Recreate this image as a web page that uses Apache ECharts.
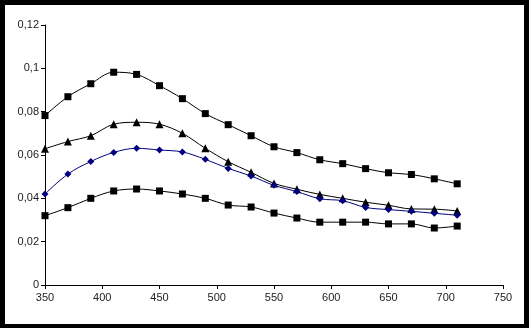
<!DOCTYPE html>
<html>
<head>
<meta charset="utf-8">
<script src="https://cdn.jsdelivr.net/npm/echarts@6/dist/echarts.min.js"></script>
<style>
html,body{margin:0;padding:0;background:#fff;}
#chart{width:529px;height:328px;}
</style>
</head>
<body>
<div id="chart"></div>
<script>
const wavelengths = [350,370,390,410,430,450,470,490,510,530,550,570,590,610,630,650,670,690,710];
const seriesTop = [0.0782,0.0869,0.0929,0.0982,0.0972,0.0920,0.0860,0.0791,0.0740,0.0689,0.0638,0.0611,0.0578,0.0560,0.0537,0.0518,0.0510,0.0490,0.0467];
const seriesTriangle = [0.0629,0.0662,0.0689,0.0742,0.0751,0.0742,0.0700,0.0631,0.0569,0.0520,0.0469,0.0442,0.0418,0.0400,0.0382,0.0368,0.0351,0.0350,0.0342];
const seriesBlue = [0.0420,0.0512,0.0570,0.0612,0.0631,0.0623,0.0614,0.0580,0.0538,0.0503,0.0460,0.0431,0.0398,0.0389,0.0358,0.0348,0.0340,0.0331,0.0322];
const seriesBottom = [0.0320,0.0357,0.0400,0.0434,0.0443,0.0434,0.0420,0.0400,0.0369,0.0360,0.0332,0.0309,0.0290,0.0290,0.0290,0.0282,0.0282,0.0263,0.0272];
const yTickLabels = {"0":"0","0.02":"0,02","0.04":"0,04","0.06":"0,06","0.08":"0,08","0.1":"0,1","0.12":"0,12"};

function pairs(vals){ return wavelengths.map((x,i)=>[x, vals[i]]); }

const chart = echarts.init(document.getElementById('chart'), null, {renderer:'canvas'});
const font = {fontFamily:'Liberation Sans, Arial, sans-serif', fontSize:11, color:'#222'};
function mk(name, vals, symbol, size, color){
  return {
    name, type:'line', data: pairs(vals), smooth:0.35,
    symbol, symbolSize:size, showSymbol:true,
    lineStyle:{color:color, width:1},
    itemStyle:{color:color, borderWidth:0},
    emphasis:{disabled:true}, animation:false, z: 3
  };
}
chart.setOption({
  backgroundColor:'#fff',
  animation:false,
  grid:{left:45, right:26, top:25, bottom:43, containLabel:false},
  xAxis:{
    type:'value', min:350, max:750, interval:50,
    axisLine:{lineStyle:{color:'#000', width:1}},
    axisTick:{show:true, inside:false, length:4, lineStyle:{color:'#000'}},
    axisLabel:Object.assign({margin:7}, font),
    splitLine:{show:false}
  },
  yAxis:{
    type:'value', min:0, max:0.12, interval:0.02,
    axisLine:{show:true, lineStyle:{color:'#000', width:1}},
    axisTick:{show:true, inside:false, length:4, lineStyle:{color:'#000'}},
    axisLabel:Object.assign({margin:6, formatter:function(v){
      const k = String(Math.round(v*100)/100);
      return yTickLabels[k] !== undefined ? yTickLabels[k] : k.replace('.',',');
    }}, font),
    splitLine:{show:false}
  },
  series:[
    mk('A', seriesTop, 'rect', 7, '#000'),
    mk('B', seriesTriangle, 'triangle', 8, '#000'),
    mk('C', seriesBlue, 'diamond', 7, '#000080'),
    mk('D', seriesBottom, 'rect', 7, '#000')
  ],
  graphic:[
    {type:'rect', shape:{x:0,y:0,width:529,height:5}, style:{fill:'#000'}, silent:true, z:100},
    {type:'rect', shape:{x:0,y:324,width:529,height:4}, style:{fill:'#000'}, silent:true, z:100},
    {type:'rect', shape:{x:0,y:0,width:5,height:328}, style:{fill:'#000'}, silent:true, z:100},
    {type:'rect', shape:{x:524,y:0,width:5,height:328}, style:{fill:'#000'}, silent:true, z:100}
  ]
});
</script>
</body>
</html>
